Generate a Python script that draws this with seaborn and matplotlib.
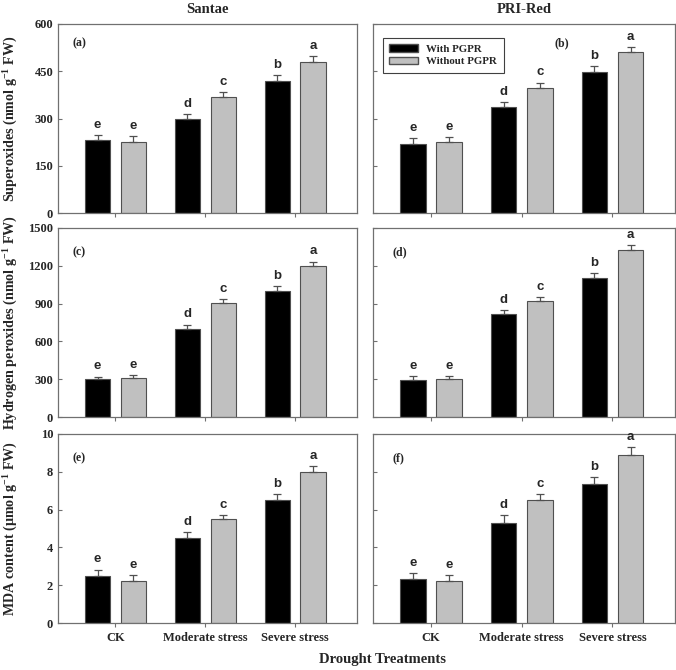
import numpy as np
import pandas as pd
import matplotlib
matplotlib.use("Agg")
import matplotlib.pyplot as plt
import seaborn as sns
from matplotlib.patches import Patch

# chart data
categories = ['CK', 'Moderate stress', 'Severe stress']
groups = ['With PGPR', 'Without PGPR']
letters_with = ['e', 'd', 'b']
letters_without = ['e', 'c', 'a']

sup_santae_with = [231, 300, 419]
sup_santae_without = [225, 369, 480]
sup_santae_err_with = [17, 14, 20]
sup_santae_err_without = [18, 15, 18]

sup_pri_with = [219, 337, 448]
sup_pri_without = [224, 398, 512]
sup_pri_err_with = [18, 16, 19]
sup_pri_err_without = [18, 16, 16]

h2o2_santae_with = [302, 702, 1002]
h2o2_santae_without = [313, 901, 1200]
h2o2_santae_err_with = [19, 32, 34]
h2o2_santae_err_without = [19, 32, 34]

h2o2_pri_with = [294, 814, 1100]
h2o2_pri_without = [304, 922, 1325]
h2o2_pri_err_with = [29, 32, 40]
h2o2_pri_err_without = [19, 32, 42]

mda_santae_with = [2.5, 4.5, 6.5]
mda_santae_without = [2.2, 5.5, 8.0]
mda_santae_err_with = [0.33, 0.33, 0.33]
mda_santae_err_without = [0.33, 0.23, 0.32]

mda_pri_with = [2.34, 5.3, 7.38]
mda_pri_without = [2.2, 6.49, 8.88]
mda_pri_err_with = [0.32, 0.42, 0.32]
mda_pri_err_without = [0.33, 0.33, 0.42]

col_titles = ['Santae', 'PRI-Red']
ylabels = ['Superoxides (nmol g$^{\\mathbf{-1}}$ FW)',
           'Hydrogen peroxides (nmol g$^{\\mathbf{-1}}$ FW)',
           'MDA content (\u03bcmol g$^{\\mathbf{-1}}$ FW)']
yticks = [np.arange(0, 601, 150), np.arange(0, 1501, 300), np.arange(0, 11, 2)]
panel_tags = [['(a)', '(b)'], ['(c)', '(d)'], ['(e)', '(f)']]
tag_pos = [[(0.05, 0.9), (0.6, 0.9)], [(0.05, 0.87), (0.065, 0.87)],
           [(0.05, 0.87), (0.065, 0.87)]]

panels = [
    [(sup_santae_with, sup_santae_without, sup_santae_err_with, sup_santae_err_without),
     (sup_pri_with, sup_pri_without, sup_pri_err_with, sup_pri_err_without)],
    [(h2o2_santae_with, h2o2_santae_without, h2o2_santae_err_with, h2o2_santae_err_without),
     (h2o2_pri_with, h2o2_pri_without, h2o2_pri_err_with, h2o2_pri_err_without)],
    [(mda_santae_with, mda_santae_without, mda_santae_err_with, mda_santae_err_without),
     (mda_pri_with, mda_pri_without, mda_pri_err_with, mda_pri_err_without)],
]

sns.set_style('white')
plt.rcParams['font.family'] = ['Liberation Serif', 'DejaVu Serif']
plt.rcParams['font.weight'] = 'bold'
plt.rcParams['mathtext.fontset'] = 'custom'
plt.rcParams['mathtext.rm'] = 'Liberation Serif:bold'
plt.rcParams['mathtext.bf'] = 'Liberation Serif:bold'

colors = {'With PGPR': '#000000', 'Without PGPR': '#c0c0c0'}
edge = '#505050'
spine_col = '#707070'

fig = plt.figure(figsize=(6.76, 6.70), dpi=100)
lefts = [58 / 676, 373 / 676]
widths = [299 / 676, 302 / 676]
bottoms = [1 - 213 / 670, 1 - 417 / 670, 1 - 623 / 670]
height = 189 / 670

for r in range(3):
    for c in range(2):
        ax = fig.add_axes([lefts[c], bottoms[r], widths[c], height])
        w, wo, ew, ewo = panels[r][c]
        df = pd.DataFrame({
            'treatment': categories * 2,
            'group': [groups[0]] * 3 + [groups[1]] * 3,
            'value': list(w) + list(wo),
        })
        sns.barplot(data=df, x='treatment', y='value', hue='group',
                    order=categories, hue_order=groups, palette=colors,
                    width=0.8, gap=0.3, errorbar=None, legend=False,
                    edgecolor=edge, linewidth=0.8, ax=ax)

        # error bars (upper only) and significance letters
        bars = sorted([p for p in ax.patches if p.get_height() > 0],
                      key=lambda p: p.get_x())
        errs = [e for pair in zip(ew, ewo) for e in pair]
        lets = [l for pair in zip(letters_with, letters_without) for l in pair]
        for p, e, l in zip(bars, errs, lets):
            xc = p.get_x() + p.get_width() / 2
            top = p.get_height()
            ax.errorbar(xc, top, yerr=[[0], [e]], fmt='none', ecolor=edge,
                        elinewidth=0.9, capsize=3, capthick=0.9, zorder=1)
            ax.annotate(l, (xc, top + e), xytext=(0, 3), textcoords='offset points',
                        ha='center', va='bottom', fontsize=9.5, fontweight='bold',
                        family=['Liberation Sans', 'DejaVu Sans'])

        ax.set_xlim(-0.64, 2.69)
        ax.set_ylim(yticks[r][0], yticks[r][-1])
        ax.set_yticks(yticks[r])
        ax.set_xlabel('')
        ax.set_ylabel('')
        for s in ax.spines.values():
            s.set_color(spine_col)
            s.set_linewidth(0.9)
        ax.tick_params(axis='y', direction='in', length=3, color=spine_col,
                       labelsize=9, left=True)
        ax.tick_params(axis='x', direction='out', length=3, color=spine_col,
                       labelsize=9, bottom=True)
        if c == 0:
            ax.set_ylabel(ylabels[r], fontsize=10.2, fontweight='bold')
            ax.yaxis.set_label_coords(-0.13, 0.5)
        else:
            ax.set_yticklabels([])
        if r < 2:
            ax.set_xticklabels([])
        else:
            ax.set_xticklabels(categories, fontweight='bold')
        if r == 0:
            ax.set_title(col_titles[c], fontsize=10.5, fontweight='bold', pad=8)
        tx, ty = tag_pos[r][c]
        ax.text(tx, ty, panel_tags[r][c], transform=ax.transAxes, fontsize=8.5,
                fontweight='bold', va='center')
        if r == 0 and c == 1:
            handles = [Patch(facecolor=colors[g], edgecolor=edge, label=g) for g in groups]
            leg = ax.legend(handles=handles, loc='upper left', bbox_to_anchor=(0.015, 0.955),
                            fancybox=False, framealpha=1, edgecolor='#404040',
                            prop={'family': 'Liberation Serif', 'weight': 'bold', 'size': 7.8},
                            handlelength=2.6, handleheight=0.7, borderpad=0.6,
                            labelspacing=0.25)
            leg.get_frame().set_linewidth(0.8)

fig.text(383 / 676, 1 - 660 / 670, 'Drought Treatments', ha='center', va='center',
         fontsize=10.5, fontweight='bold')

fig.savefig('out.png', dpi=100)
